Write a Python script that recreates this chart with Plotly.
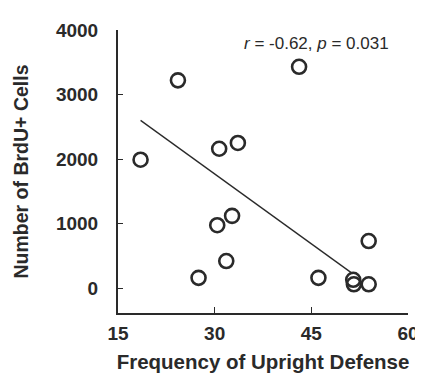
import plotly.graph_objects as go

# Data
freq_upright = [18.5, 24.3, 27.5, 30.4, 30.7, 31.8, 32.7, 33.6, 43.1, 46.1, 51.5, 51.6, 53.9, 53.9]
brdu_cells = [1990, 3220, 160, 975, 2160, 420, 1120, 2250, 3430, 160, 130, 60, 60, 730]

fit_x = [18.5, 51.4]
fit_y = [2600, 225]

x_ticks = [15, 30, 45, 60]
y_ticks = [0, 1000, 2000, 3000, 4000]

ink = "#2a2a2a"
font_family = "Liberation Sans, Arial, sans-serif"

fig = go.Figure()
fig.add_trace(go.Scatter(x=fit_x, y=fit_y, mode="lines",
                         line=dict(color=ink, width=1.3), showlegend=False))
fig.add_trace(go.Scatter(x=freq_upright, y=brdu_cells, mode="markers",
                         marker=dict(symbol="circle-open", size=14,
                                     line=dict(color=ink, width=2.6), color=ink),
                         showlegend=False))

fig.add_annotation(x=0.685, y=1.0, xref="paper", yref="paper",
                   text="<i>r</i> = -0.62, <i>p</i> = 0.031",
                   showarrow=False, xanchor="center", yanchor="top", yshift=-2,
                   font=dict(family=font_family, size=17, color=ink))

fig.update_layout(
    width=423, height=374,
    margin=dict(l=110, r=12, t=14, b=61),
    paper_bgcolor="white", plot_bgcolor="white",
    font=dict(family=font_family, color=ink),
    xaxis=dict(range=[15, 60], tickvals=x_ticks, ticks="inside", ticklen=6,
               tickwidth=1.2, tickcolor=ink, showline=True, linecolor=ink,
               linewidth=2, showgrid=False, zeroline=False, ticklabelstandoff=2,
               ticklabeloverflow="allow",
               tickfont=dict(size=19, family=font_family, color=ink, weight="bold"),
               title=dict(text="<b>Frequency of Upright Defense</b>",
                          font=dict(size=20.5, family=font_family, color=ink), standoff=12)),
    yaxis=dict(range=[-385, 4000], tickvals=y_ticks, ticks="inside", ticklen=5,
               tickwidth=1.2, tickcolor=ink, showline=True, linecolor=ink,
               linewidth=2, showgrid=False, zeroline=False, ticklabelstandoff=14,
               tickfont=dict(size=19, family=font_family, color=ink, weight="bold"),
               title=dict(text="<b>Number of BrdU+ Cells</b>",
                          font=dict(size=19.5, family=font_family, color=ink), standoff=22)),
)

fig.write_html("out.html")
